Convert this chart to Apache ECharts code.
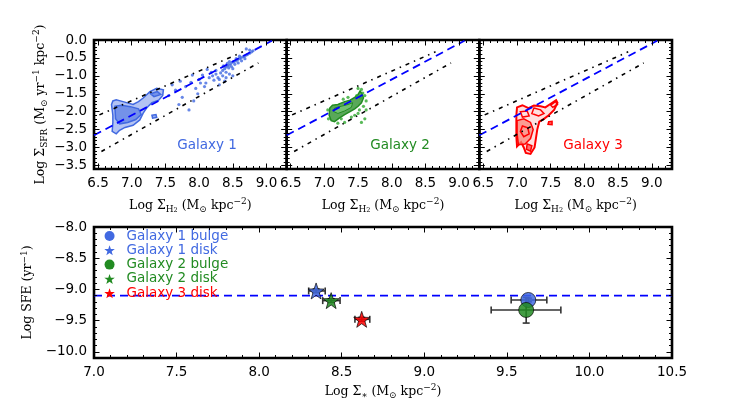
<!DOCTYPE html>
<html><head><meta charset="utf-8">
<script src="https://cdn.jsdelivr.net/npm/echarts@6/dist/echarts.min.js"></script>
<style>html,body{margin:0;padding:0;background:#fff}#c{width:747px;height:399px}</style>
</head><body><div id="c"></div>
<script>
// ---------------- data ----------------
const topXTicks = [6.5, 7.0, 7.5, 8.0, 8.5, 9.0];
const topYTicks = [-3.5, -3.0, -2.5, -2.0, -1.5, -1.0, -0.5, 0.0];
const botXTicks = [7.0, 7.5, 8.0, 8.5, 9.0, 9.5, 10.0, 10.5];
const botYTicks = [-10.0, -9.5, -9.0, -8.5, -8.0];
const topXRange = [6.44, 9.3];
const topYRange = [-3.6, 0.0];
const botXRange = [7.0, 10.5];
const botYRange = [-10.1, -8.0];

const panelNames = ['Galaxy 1', 'Galaxy 2', 'Galaxy 3'];

// reference relations in the top panels
const relationLine = [[6.44, -2.66], [9.08, -0.02]];
const upperLine = [[6.52, -2.09], [8.65, -0.33]];
const lowerLine = [[6.55, -3.11], [8.88, -0.64]];

// Galaxy 1 contours + points
const g1Outer = [[6.70,-1.80],[6.72,-1.70],[6.77,-1.67],[6.87,-1.72],[7.02,-1.80],[7.10,-1.72],[7.17,-1.62],[7.27,-1.44],[7.37,-1.35],[7.47,-1.39],[7.46,-1.55],[7.40,-1.68],[7.30,-1.75],[7.22,-1.90],[7.17,-2.04],[7.12,-2.23],[7.02,-2.38],[6.90,-2.44],[6.82,-2.52],[6.77,-2.62],[6.71,-2.55],[6.72,-2.30],[6.72,-2.10]];
const g1Inner = [[6.75,-1.85],[6.85,-1.82],[6.98,-1.86],[7.10,-1.92],[7.14,-2.08],[7.06,-2.22],[6.94,-2.30],[6.82,-2.34],[6.76,-2.20]];
const g1Small = [[7.28,-1.50],[7.38,-1.44],[7.43,-1.52],[7.33,-1.58]];
const g1Blob = [[7.30,-2.10],[7.36,-2.08],[7.37,-2.16],[7.31,-2.18]];
const g1Points = [[8.32,-0.92],[8.35,-0.85],[8.38,-0.80],[8.40,-0.75],[8.42,-0.72],[8.45,-0.70],[8.47,-0.66],[8.50,-0.62],[8.52,-0.60],[8.55,-0.58],[8.57,-0.55],[8.60,-0.52],[8.62,-0.50],[8.65,-0.47],[8.67,-0.45],[8.70,-0.42],[8.72,-0.40],[8.75,-0.37],[8.78,-0.33],[8.80,-0.30],[8.44,-0.78],[8.48,-0.74],[8.53,-0.68],[8.58,-0.64],[8.63,-0.58],[8.68,-0.52],[8.50,-0.80],[8.40,-0.90],[8.45,-0.60],[8.55,-0.52],[8.60,-0.45],[8.36,-0.72],[8.42,-0.65],[8.25,-0.95],[8.20,-1.00],[8.28,-1.05],[8.30,-1.10],[8.22,-1.12],[8.15,-1.05],[8.18,-0.90],[8.10,-1.20],[8.35,-1.00],[8.40,-1.05],[8.38,-1.15],[8.45,-0.95],[8.05,-0.98],[8.12,-0.82],[8.00,-1.10],[8.08,-1.30],[8.30,-1.25],[8.25,-0.85],[8.50,-1.00],[8.02,-1.20],[7.95,-1.35],[7.98,-1.50],[7.90,-0.98],[7.88,-1.18],[7.80,-1.30],[7.85,-1.95],[7.70,-1.80],[7.75,-1.60],[7.65,-1.40],[7.60,-1.25],[7.72,-1.15],[7.55,-1.55],[7.92,-1.70],[8.70,-0.25],[8.75,-0.28]];

// Galaxy 2 contours + points
const g2Outer = [[7.08,-1.90],[7.12,-1.82],[7.20,-1.80],[7.30,-1.72],[7.38,-1.68],[7.45,-1.60],[7.50,-1.52],[7.53,-1.42],[7.56,-1.50],[7.58,-1.62],[7.55,-1.75],[7.50,-1.85],[7.45,-1.92],[7.38,-2.00],[7.30,-2.08],[7.22,-2.18],[7.15,-2.28],[7.10,-2.25],[7.07,-2.10]];
const g2Inner = [[7.15,-1.90],[7.25,-1.85],[7.35,-1.80],[7.42,-1.75],[7.40,-1.88],[7.30,-1.98],[7.20,-2.05],[7.14,-2.00]];
const g2Points = [[7.55,-1.38],[7.60,-1.55],[7.62,-1.70],[7.58,-1.85],[7.60,-2.20],[7.55,-2.30],[7.50,-2.05],[7.45,-2.10],[7.40,-2.15],[7.52,-1.95],[7.57,-1.48],[7.48,-1.55],[7.35,-1.60],[7.28,-1.65],[7.25,-2.20],[7.30,-2.30],[7.20,-2.32],[7.05,-1.95],[7.06,-2.20],[7.62,-1.95],[7.50,-1.35],[7.54,-1.62]];

// Galaxy 3 contours
const g3Outer = [[7.00,-1.88],[7.08,-1.82],[7.17,-1.90],[7.25,-1.83],[7.35,-1.85],[7.42,-1.88],[7.50,-1.78],[7.58,-1.68],[7.60,-1.75],[7.55,-1.95],[7.47,-2.10],[7.40,-2.20],[7.33,-2.28],[7.30,-2.50],[7.28,-2.75],[7.26,-3.00],[7.20,-3.18],[7.13,-3.15],[7.10,-3.00],[7.06,-2.85],[7.00,-2.97],[6.99,-2.70],[6.99,-2.40],[6.99,-2.10]];
const g3Fill = [[7.00,-2.25],[7.10,-2.20],[7.20,-2.30],[7.24,-2.50],[7.20,-2.75],[7.12,-2.90],[7.02,-2.92],[7.00,-2.60]];
const g3LoopA = [[7.25,-1.90],[7.35,-1.95],[7.40,-2.05],[7.32,-2.12],[7.22,-2.05]];
const g3LoopB = [[7.05,-2.00],[7.15,-1.98],[7.18,-2.12],[7.08,-2.15]];
const g3LoopC = [[7.15,-2.90],[7.22,-2.95],[7.20,-3.10],[7.14,-3.05]];
const g3LoopD = [[7.47,-2.28],[7.52,-2.27],[7.52,-2.36],[7.46,-2.35]];
const g3LoopE = [[7.50,-1.82],[7.57,-1.72],[7.60,-1.80],[7.53,-1.88]];
const g3LoopF = [[7.08,-2.40],[7.16,-2.45],[7.18,-2.62],[7.10,-2.70],[7.05,-2.55]];

// bottom panel
const bottomNames = ['Galaxy 1 bulge', 'Galaxy 1 disk', 'Galaxy 2 bulge', 'Galaxy 2 disk', 'Galaxy 3 disk'];
const sigmaStar   = [9.63, 8.345, 9.617, 8.436, 8.621];
const logSFE      = [-9.17, -9.025, -9.33, -9.18, -9.48];
const sigmaStarLo = [9.526, 8.30, 9.405, 8.385, 8.58];
const sigmaStarHi = [9.742, 8.40, 9.827, 8.49, 8.67];
const sfeLo       = [-9.20, -9.055, -9.54, -9.21, -9.51];
const sfeHi       = [-9.14, -8.995, -9.13, -9.15, -9.45];
const sfeRelation = [[7.0, -9.1], [10.5, -9.1]];

// ---------------- style ----------------
const SANS = 'DejaVu Sans', SERIF = 'DejaVu Serif';
const BLUE = '#4169E1', GREEN = '#228B22', RED = '#FF0000';
const colors = [BLUE, BLUE, GREEN, GREEN, RED];
const STAR = 'path://M0,-10L2.35,-3.24L9.51,-3.09L3.8,1.24L5.88,8.09L0,4L-5.88,8.09L-3.8,1.24L-9.51,-3.09L-2.35,-3.24Z';
const symbols = ['circle', STAR, 'circle', STAR, STAR];
const sizes = [15, 16, 15, 16, 16];

function seq(a, b, step) { const o = []; for (let v = a; v <= b + 1e-9; v += step) o.push(Math.round(v * 100) / 100); return o; }
const fmt = v => { const s = Number(v).toFixed(1); return s.replace('-', '\u2212'); };

const rich = {
  n: { fontFamily: SERIF, fontSize: 12.5, lineHeight: 17, color: '#000' },
  s: { fontFamily: SERIF, fontSize: 9, lineHeight: 9, verticalAlign: 'bottom', color: '#000' },
  t: { fontFamily: SERIF, fontSize: 6.5, lineHeight: 6, verticalAlign: 'bottom', color: '#000' },
  u: { fontFamily: SERIF, fontSize: 9, lineHeight: 9, verticalAlign: 'top', color: '#000' }
};
const nameH2 = '{n|Log \u03A3}{s|H}{t|2}{n| (M}{s|\u2299}{n| kpc}{u|\u22122}{n|)}';
const nameSFR = '{n|Log \u03A3}{s|SFR}{n| (M}{s|\u2299}{n| yr}{u|\u22121}{n| kpc}{u|\u22122}{n|)}';
const nameSFE = '{n|Log SFE (yr}{u|\u22121}{n|)}';
const nameStar = '{n|Log \u03A3}{s|\u2217}{n| (M}{s|\u2299}{n| kpc}{u|\u22122}{n|)}';

const gridRects = [
  { left: 94, top: 40, width: 192.7, height: 129 },
  { left: 286.7, top: 40, width: 192.6, height: 129 },
  { left: 479.3, top: 40, width: 192.7, height: 129 },
  { left: 94, top: 227, width: 578, height: 131 }
];
const grid = gridRects.map(g => Object.assign({ show: true, borderColor: '#000', borderWidth: 2.6, backgroundColor: 'rgba(0,0,0,0)', containLabel: false, outerBoundsMode: 'none' }, g));

function ax(gi, pos, range, vals, len, label, extra) {
  return Object.assign({
    type: 'value', gridIndex: gi, position: pos, min: range[0], max: range[1], offset: 0,
    axisLine: { show: false, onZero: false }, splitLine: { show: false },
    axisTick: { show: true, inside: true, length: len, customValues: vals, lineStyle: { color: '#000', width: 1 } },
    axisLabel: label ? { show: true, customValues: vals, formatter: fmt, fontFamily: SANS, fontSize: 13.5, color: '#000', margin: 7 } : { show: false },
    z: 5
  }, extra || {});
}
const xAxis = [], yAxis = [];
function addAxes(gi, xr, yr, xMaj, yMaj, xMin, yMin, showX, showY, xName, yName, xGap, yGap) {
  const xn = xName ? { name: xName, nameLocation: 'middle', nameGap: xGap, nameTextStyle: { rich } } : {};
  const yn = yName ? { name: yName, nameLocation: 'middle', nameGap: yGap, nameRotate: 90, nameTextStyle: { rich } } : {};
  xAxis.push(ax(gi, 'bottom', xr, xMaj, 5.5, showX, xn));
  xAxis.push(ax(gi, 'top', xr, xMaj, 5.5, false));
  xAxis.push(ax(gi, 'bottom', xr, xMin, 3, false));
  xAxis.push(ax(gi, 'top', xr, xMin, 3, false));
  yAxis.push(ax(gi, 'left', yr, yMaj, 5.5, showY, yn));
  yAxis.push(ax(gi, 'right', yr, yMaj, 5.5, false));
  yAxis.push(ax(gi, 'left', yr, yMin, 3, false));
  yAxis.push(ax(gi, 'right', yr, yMin, 3, false));
}
for (let g = 0; g < 3; g++) {
  addAxes(g, topXRange, topYRange, topXTicks, topYTicks, seq(6.5, 9.3, 0.1), seq(-3.6, 0, 0.1), true, g === 0, nameH2, g === 0 ? nameSFR : null, 28, 45);
}
addAxes(3, botXRange, botYRange, botXTicks, botYTicks, seq(7.0, 10.5, 0.1), seq(-10.1, -8.0, 0.1), true, true, nameStar, nameSFE, 25, 45);

const series = [];
function polySeries(gi, polys) {
  series.push({
    type: 'custom', xAxisIndex: gi * 4, yAxisIndex: gi * 4, silent: true, clip: true, z: 2,
    data: [[7, -2]],
    renderItem: (p, api) => ({
      type: 'group',
      children: polys.map(pl => ({
        type: 'polygon',
        shape: { points: pl.pts.map(q => api.coord(q)) },
        style: { fill: pl.fill, stroke: pl.stroke, lineWidth: pl.lw || 1.5 }
      }))
    })
  });
}
function refLines(gi) {
  const base = { type: 'line', xAxisIndex: gi * 4, yAxisIndex: gi * 4, symbol: 'none', silent: true, clip: true, z: 4 };
  series.push(Object.assign({ data: relationLine, lineStyle: { color: '#0000FF', width: 1.8, type: [8, 5] } }, base));
  series.push(Object.assign({ data: upperLine, lineStyle: { color: '#000', width: 1.6, type: [4, 5, 1.5, 5] } }, base));
  series.push(Object.assign({ data: lowerLine, lineStyle: { color: '#000', width: 1.6, type: [4, 5, 1.5, 5] } }, base));
}
// panel 1
polySeries(0, [
  { pts: g1Outer, fill: 'rgba(65,105,225,0.40)', stroke: BLUE },
  { pts: g1Inner, fill: 'rgba(65,105,225,0.55)', stroke: BLUE },
  { pts: g1Small, fill: 'rgba(65,105,225,0.55)', stroke: BLUE },
  { pts: g1Blob, fill: 'rgba(65,105,225,0.55)', stroke: BLUE }
]);
series.push({ type: 'scatter', xAxisIndex: 0, yAxisIndex: 0, data: g1Points, symbolSize: 3.2, itemStyle: { color: BLUE }, silent: true, z: 3 });
refLines(0);
// panel 2
polySeries(1, [
  { pts: g2Outer, fill: 'rgba(34,139,34,0.75)', stroke: GREEN },
  { pts: g2Inner, fill: 'rgba(120,200,120,0.8)', stroke: GREEN, lw: 1 }
]);
series.push({ type: 'scatter', xAxisIndex: 4, yAxisIndex: 4, data: g2Points, symbolSize: 3.2, itemStyle: { color: '#2ea82e' }, silent: true, z: 3 });
refLines(1);
// panel 3
polySeries(2, [
  { pts: g3Outer, fill: 'rgba(255,0,0,0.12)', stroke: RED, lw: 2 },
  { pts: g3Fill, fill: 'rgba(250,128,114,0.7)', stroke: RED },
  { pts: g3LoopA, fill: 'rgba(0,0,0,0)', stroke: RED },
  { pts: g3LoopB, fill: 'rgba(0,0,0,0)', stroke: RED },
  { pts: g3LoopC, fill: 'rgba(255,0,0,0.5)', stroke: RED },
  { pts: g3LoopD, fill: 'rgba(255,0,0,0.6)', stroke: RED },
  { pts: g3LoopE, fill: 'rgba(0,0,0,0)', stroke: RED },
  { pts: g3LoopF, fill: 'rgba(0,0,0,0)', stroke: RED }
]);
refLines(2);

// bottom panel
series.push({ type: 'line', xAxisIndex: 12, yAxisIndex: 12, data: sfeRelation, symbol: 'none', silent: true, z: 1,
  lineStyle: { color: '#0000FF', width: 1.8, type: [8, 5] } });
series.push({
  type: 'custom', xAxisIndex: 12, yAxisIndex: 12, silent: true, z: 2,
  data: sigmaStar.map((x, i) => [x, logSFE[i], sigmaStarLo[i], sigmaStarHi[i], sfeLo[i], sfeHi[i]]),
  renderItem: (p, api) => {
    const y = api.value(1), x = api.value(0);
    const a = api.coord([api.value(2), y]), b = api.coord([api.value(3), y]);
    const c = api.coord([x, api.value(4)]), d = api.coord([x, api.value(5)]);
    const cap = 3.5, st = { stroke: '#333', lineWidth: 1.6 };
    const L = (x1, y1, x2, y2) => ({ type: 'line', shape: { x1, y1, x2, y2 }, style: st });
    return { type: 'group', children: [
      L(a[0], a[1], b[0], b[1]), L(a[0], a[1] - cap, a[0], a[1] + cap), L(b[0], b[1] - cap, b[0], b[1] + cap),
      L(c[0], c[1], d[0], d[1]), L(c[0] - cap, c[1], c[0] + cap, c[1]), L(d[0] - cap, d[1], d[0] + cap, d[1])
    ] };
  }
});
bottomNames.forEach((n, i) => {
  series.push({ type: 'scatter', name: n, xAxisIndex: 12, yAxisIndex: 12, data: [[sigmaStar[i], logSFE[i]]],
    symbol: symbols[i], symbolSize: sizes[i], silent: true, z: 3,
    itemStyle: { color: colors[i], opacity: 0.85, borderColor: '#000', borderWidth: 0.8 } });
});

const option = {
  animation: false,
  grid, xAxis, yAxis, series,
  legend: {
    orient: 'vertical', left: 104.3, top: 229, itemWidth: 24, itemHeight: 10, itemGap: 0.3, padding: 0,
    selectedMode: false,
    data: bottomNames.map((n, i) => ({ name: n, icon: symbols[i], itemStyle: { color: colors[i], borderWidth: 0, opacity: 1 },
      textStyle: { color: colors[i] } })),
    textStyle: { fontFamily: SANS, fontSize: 13.5, lineHeight: 12, padding: [0, 0, 0, 0] }
  },
  graphic: panelNames.map((t, i) => ({
    type: 'text', x: [207, 400, 593][i], y: 145,
    style: { text: t, fill: colors[i * 2], font: '13.5px "DejaVu Sans"', textAlign: 'center', textVerticalAlign: 'middle' }
  }))
};
const chart = echarts.init(document.getElementById('c'), null, { renderer: 'canvas' });
chart.setOption(option);
</script></body></html>
